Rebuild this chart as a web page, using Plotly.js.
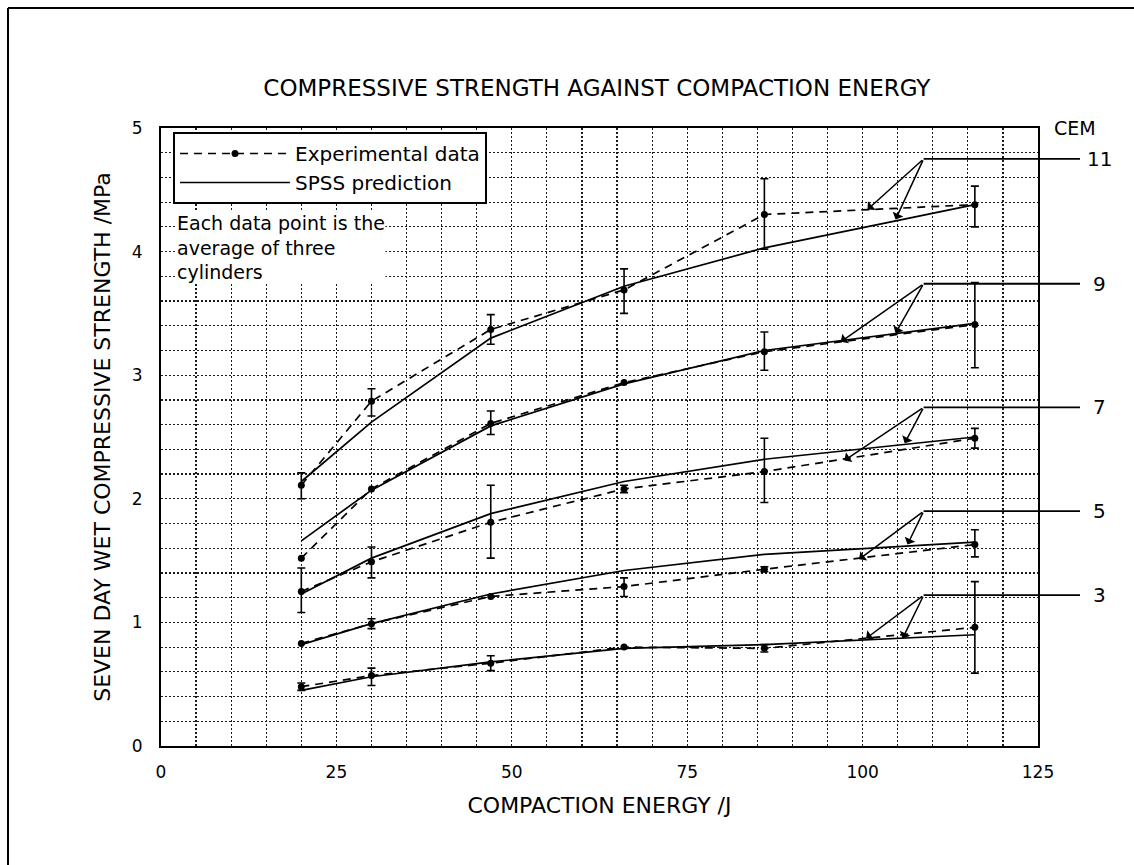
<!DOCTYPE html>
<html><head><meta charset="utf-8">
<script src="https://cdn.plot.ly/plotly-3.0.1.min.js"></script>
<style>html,body{margin:0;padding:0;background:#fff;}#chart{width:1134px;height:865px;}</style>
</head><body><div id="chart"></div>
<script>
// ---- data ----
const energy = [20, 30, 47, 66, 86, 116];
const cemLevels = ['11', '9', '7', '5', '3'];

const exp11 = [2.11, 2.79, 3.37, 3.69, 4.30, 4.38];
const exp9  = [1.52, 2.08, 2.61, 2.94, 3.19, 3.41];
const exp7  = [1.25, 1.49, 1.81, 2.08, 2.22, 2.49];
const exp5  = [0.83, 0.99, 1.21, 1.29, 1.43, 1.63];
const exp3  = [0.48, 0.57, 0.67, 0.80, 0.79, 0.96];

const pred11 = [2.14, 2.62, 3.30, 3.72, 4.03, 4.38];
const pred9  = [1.66, 2.07, 2.59, 2.93, 3.20, 3.42];
const pred7  = [1.23, 1.52, 1.88, 2.14, 2.32, 2.50];
const pred5  = [0.82, 0.99, 1.23, 1.42, 1.55, 1.65];
const pred3  = [0.45, 0.56, 0.68, 0.79, 0.82, 0.90];

const errUp11 = [0.10, 0.10, 0.12, 0.17, 0.29, 0.15];
const errDn11 = [0.11, 0.12, 0.12, 0.19, 0.28, 0.18];
const errUp9  = [NaN, NaN, 0.10, NaN, 0.16, 0.34];
const errDn9  = [NaN, NaN, 0.09, NaN, 0.15, 0.35];
const errUp7  = [0.19, 0.12, 0.30, 0.03, 0.27, 0.08];
const errDn7  = [0.17, 0.13, 0.29, 0.03, 0.25, 0.08];
const errUp5  = [NaN, 0.04, NaN, 0.07, 0.02, 0.12];
const errDn5  = [NaN, 0.04, NaN, 0.08, 0.02, 0.10];
const errUp3  = [0.03, 0.06, 0.06, NaN, 0.03, 0.37];
const errDn3  = [0.03, 0.08, 0.06, NaN, 0.03, 0.37];

const xTicks = [0, 25, 50, 75, 100, 125];
const yTicks = [0, 1, 2, 3, 4, 5];
const noteText = 'Each data point is the<br>average of three<br>cylinders';

// ---- annotation geometry (CEM leader lines) ----
const leaderY = [4.75, 3.74, 2.74, 1.90, 1.22];
const leaderX0 = 108.7, leaderX1 = 131.2;
const tipExpX = [100.7, 96.9, 97.4, 99.5, 100.5];
const tipExpY = [4.34, 3.27, 2.31, 1.51, 0.87];
const tipPredX = [104.7, 104.7, 106.0, 106.4, 105.7];
const tipPredY = [4.26, 3.34, 2.45, 1.63, 0.87];

// ---- layout constants ----
const W = 1134, H = 865;
const mL = 161, mR = 96, mT = 128, mB = 119;
const FONT = 'DejaVu Sans, Liberation Sans, Arial, sans-serif';

const exps = [exp11, exp9, exp7, exp5, exp3];
const preds = [pred11, pred9, pred7, pred5, pred3];
const ups = [errUp11, errUp9, errUp7, errUp5, errUp3];
const dns = [errDn11, errDn9, errDn7, errDn5, errDn3];

const traces = [];
exps.forEach((ys, i) => {
  traces.push({
    x: energy, y: ys, type: 'scatter', mode: 'lines+markers',
    name: 'Experimental data', legendgroup: 'exp', showlegend: i === 0,
    line: {color: '#000', width: 1.7, dash: '8px,6px'},
    marker: {color: '#000', size: 7, symbol: 'circle'},
    error_y: {type: 'data', symmetric: false, array: ups[i], arrayminus: dns[i],
              color: '#000', thickness: 1.6, width: 4},
    cliponaxis: false
  });
});
preds.forEach((ys, i) => {
  traces.push({
    x: energy, y: ys, type: 'scatter', mode: 'lines',
    name: 'SPSS prediction', legendgroup: 'pred', showlegend: i === 0,
    line: {color: '#000', width: 1.7}
  });
});

const xMax = 125;
const annotations = [];
cemLevels.forEach((lab, i) => {
  const L = leaderY[i];
  annotations.push({xref: 'x', yref: 'y', axref: 'x', ayref: 'y', x: leaderX0, y: L, ax: leaderX1, ay: L,
    text: '', showarrow: true, arrowhead: 0, arrowwidth: 1.8, arrowcolor: '#000', standoff: 0, startstandoff: 0});
  annotations.push({xref: 'x', yref: 'y', axref: 'x', ayref: 'y', x: tipExpX[i], y: tipExpY[i], ax: leaderX0, ay: L,
    text: '', showarrow: true, arrowhead: 1, arrowsize: 1.3, arrowwidth: 1.5, arrowcolor: '#000', standoff: 0});
  annotations.push({xref: 'x', yref: 'y', axref: 'x', ayref: 'y', x: tipPredX[i], y: tipPredY[i], ax: leaderX0, ay: L,
    text: '', showarrow: true, arrowhead: 1, arrowsize: 1.3, arrowwidth: 1.5, arrowcolor: '#000', standoff: 0});
  annotations.push({xref: 'paper', yref: 'y', x: 133.8 / xMax, y: L, text: lab, showarrow: false,
    xanchor: 'center', yanchor: 'middle', font: {family: FONT, size: 20, color: '#000'}});
});
annotations.push({xref: 'paper', yref: 'paper', x: 1.042, y: 1.0, text: 'CEM', showarrow: false,
  xanchor: 'center', yanchor: 'middle', font: {family: FONT, size: 19, color: '#000'}});
annotations.push({xref: 'x', yref: 'y', x: 2.1, y: 4.03, xanchor: 'left', yanchor: 'middle', align: 'left',
  text: noteText, showarrow: false, bgcolor: '#fff', borderpad: 0,
  font: {family: FONT, size: 19, color: '#000'}});

// outer page frame (top and left edges)
const pw = W - mL - mR, ph = H - mT - mB;
const px = v => (v - mL) / pw, py = v => (H - mB - v) / ph;
const shapes = [
  {type: 'line', xref: 'paper', yref: 'paper', x0: px(8), x1: px(1134), y0: py(8), y1: py(8), line: {color: '#000', width: 2}},
  {type: 'line', xref: 'paper', yref: 'paper', x0: px(8), x1: px(8), y0: py(8), y1: py(865), line: {color: '#000', width: 2}}
];

const gridStyle = {gridcolor: '#1a1a1a', gridwidth: 1.2, griddash: '2px,2px'};
const layout = {
  width: W, height: H,
  margin: {l: mL, r: mR, t: mT, b: mB, pad: 0},
  paper_bgcolor: '#fff', plot_bgcolor: '#fff',
  showlegend: true,
  title: {text: 'COMPRESSIVE STRENGTH AGAINST COMPACTION ENERGY', x: 0.497, xanchor: 'center', xref: 'paper',
          y: 1 - 88 / H, yanchor: 'middle', font: {family: FONT, size: 23, color: '#000'}},
  xaxis: Object.assign({
    range: [0, xMax], tickvals: xTicks, ticktext: xTicks.map(String), ticks: '', ticklabelstandoff: 10,
    showline: true, mirror: true, linecolor: '#000', linewidth: 2, zeroline: false, showgrid: true,
    minor: Object.assign({dtick: 5, showgrid: true, ticks: ''}, gridStyle),
    tickfont: {family: FONT, size: 17, color: '#000'},
    title: {text: 'COMPACTION ENERGY /J', standoff: 16, font: {family: FONT, size: 22, color: '#000'}},
    automargin: false, fixedrange: true
  }, gridStyle),
  yaxis: Object.assign({
    range: [0, 5], tickvals: yTicks, ticktext: yTicks.map(String), ticks: '', ticklabelstandoff: 13,
    showline: true, mirror: true, linecolor: '#000', linewidth: 2, zeroline: false, showgrid: true,
    minor: Object.assign({dtick: 0.2, showgrid: true, ticks: ''}, gridStyle),
    tickfont: {family: FONT, size: 17, color: '#000'},
    title: {text: 'SEVEN DAY WET COMPRESSIVE STRENGTH /MPa', standoff: 15, font: {family: FONT, size: 22, color: '#000'}},
    automargin: false, fixedrange: true
  }, gridStyle),
  legend: {x: 0.0137, y: 0.9935, xanchor: 'left', yanchor: 'top', bgcolor: '#fff', bordercolor: '#000', borderwidth: 2,
           font: {family: FONT, size: 20, color: '#000'}, itemwidth: 110, tracegroupgap: 0, traceorder: 'normal'},
  annotations: annotations,
  shapes: shapes
};

Plotly.newPlot('chart', traces, layout, {displayModeBar: false, staticPlot: true});
</script>
</body></html>
